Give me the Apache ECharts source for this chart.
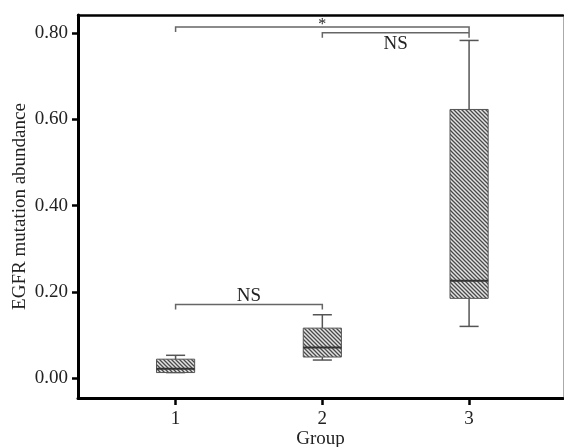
<!DOCTYPE html>
<html>
<head>
<meta charset="utf-8">
<script src="https://cdn.jsdelivr.net/npm/echarts@6/dist/echarts.min.js"></script>
<style>
  html, body { margin: 0; padding: 0; background: #fff; }
</style>
</head>
<body>
<div id="chart" style="width:564px;height:447px;"></div>
<script>
// groups on the x axis
const groups = [1, 2, 3];
// box stats per group: min, q1, median, q3, max
const whiskerLow = [0.013, 0.042, 0.120];
const q1 = [0.013, 0.049, 0.185];
const median = [0.022, 0.071, 0.226];
const q3 = [0.044, 0.116, 0.623];
const whiskerHigh = [0.053, 0.147, 0.783];
// y tick labels
const yTicks = [0, 0.2, 0.4, 0.6, 0.8];
// significance brackets
const bracketFrom = [1, 2, 1];
const bracketTo = [3, 3, 2];
const bracketY = [0.814, 0.801, 0.171];
const bracketLabel = ['*', 'NS', 'NS'];

const FONT = "'Liberation Serif', 'Times New Roman', serif";
const TXT = '#222';

// hatch fill (diagonal lines)
function hatch() {
  const s = 4;
  const c = document.createElement('canvas');
  c.width = s; c.height = s;
  const ctx = c.getContext('2d');
  ctx.fillStyle = '#e4e4e4';
  ctx.fillRect(0, 0, s, s);
  ctx.strokeStyle = '#4a4a4a';
  ctx.lineWidth = 1.3;
  ctx.beginPath();
  ctx.moveTo(-1, -1); ctx.lineTo(s + 1, s + 1);
  ctx.moveTo(-1, s - 1); ctx.lineTo(1, s + 1);
  ctx.moveTo(s - 1, -1); ctx.lineTo(s + 1, 1);
  ctx.stroke();
  return c;
}
const hatchFill = { image: hatch(), repeat: 'repeat' };

const boxData = groups.map((g, i) => [g, whiskerLow[i], q1[i], median[i], q3[i], whiskerHigh[i]]);
const bracketData = bracketFrom.map((f, i) => [f, bracketTo[i], bracketY[i], bracketLabel[i]]);
// label offset from the bracket line, px (negative = above)
const labelOffset = [-2, 11, -8];

const chart = echarts.init(document.getElementById('chart'));
chart.setOption({
  animation: false,
  grid: { left: 78, right: 1, top: 15, bottom: 49, containLabel: false, outerBoundsMode: 'none' },
  xAxis: [
    {
      type: 'value', min: 0.335, max: 3.64,
      name: 'Group', nameLocation: 'middle', nameGap: 32, nameMoveOverlap: false,
      nameTextStyle: { fontFamily: FONT, fontSize: 19, color: TXT },
      splitLine: { show: false },
      axisLine: { show: true, onZero: false, lineStyle: { color: '#000', width: 3 } },
      axisTick: { show: true, customValues: groups, length: 7, lineStyle: { color: '#000', width: 2.5 } },
      axisLabel: { customValues: groups, margin: 12, fontFamily: FONT, fontSize: 19, color: TXT }
    },
    {
      type: 'value', position: 'top', min: 0.335, max: 3.64,
      splitLine: { show: false },
      axisLine: { show: true, onZero: false, lineStyle: { color: '#000', width: 2.5 } },
      axisTick: { show: false }, axisLabel: { show: false }
    }
  ],
  yAxis: [
    {
      type: 'value', min: -0.046, max: 0.842,
      name: 'EGFR mutation abundance', nameLocation: 'middle', nameGap: 48, nameMoveOverlap: false,
      nameTextStyle: { fontFamily: FONT, fontSize: 19, color: TXT },
      splitLine: { show: false },
      axisLine: { show: true, onZero: false, lineStyle: { color: '#000', width: 3 } },
      axisTick: { show: true, customValues: yTicks, length: 6, lineStyle: { color: '#000', width: 2.5 } },
      axisLabel: {
        customValues: yTicks, margin: 10, fontFamily: FONT, fontSize: 19, color: TXT,
        formatter: v => v.toFixed(2)
      }
    },
    {
      type: 'value', position: 'right', min: -0.046, max: 0.842,
      splitLine: { show: false },
      axisLine: { show: true, onZero: false, lineStyle: { color: '#aaa', width: 1 } },
      axisTick: { show: false }, axisLabel: { show: false }
    }
  ],
  series: [
    {
      type: 'custom',
      data: boxData,
      encode: { x: 0, y: [1, 2, 3, 4, 5] },
      renderItem: function (params, api) {
        const x = api.value(0);
        const half = api.size([0.26, 0])[0] / 2;
        const cap = half / 2;
        const pLow = api.coord([x, api.value(1)]);
        const pQ1 = api.coord([x, api.value(2)]);
        const pMed = api.coord([x, api.value(3)]);
        const pQ3 = api.coord([x, api.value(4)]);
        const pHigh = api.coord([x, api.value(5)]);
        const cx = pQ1[0];
        const wStyle = { stroke: '#555', lineWidth: 1.5 };
        return {
          type: 'group',
          children: [
            { type: 'line', shape: { x1: cx, y1: pQ3[1], x2: cx, y2: pHigh[1] }, style: wStyle },
            { type: 'line', shape: { x1: cx - cap, y1: pHigh[1], x2: cx + cap, y2: pHigh[1] }, style: wStyle },
            { type: 'line', shape: { x1: cx, y1: pQ1[1], x2: cx, y2: pLow[1] }, style: wStyle },
            { type: 'line', shape: { x1: cx - cap, y1: pLow[1], x2: cx + cap, y2: pLow[1] }, style: wStyle },
            {
              type: 'rect',
              shape: { x: cx - half, y: pQ3[1], width: half * 2, height: pQ1[1] - pQ3[1] },
              style: { fill: hatchFill, stroke: '#555', lineWidth: 1 }
            },
            { type: 'line', shape: { x1: cx - half, y1: pMed[1], x2: cx + half, y2: pMed[1] }, style: { stroke: '#333', lineWidth: 2 } }
          ]
        };
      }
    },
    {
      type: 'custom',
      data: bracketData,
      encode: { x: [0, 1], y: 2 },
      renderItem: function (params, api) {
        const i = params.dataIndex;
        const a = api.coord([api.value(0), api.value(2)]);
        const b = api.coord([api.value(1), api.value(2)]);
        const drop = 5;
        const st = { stroke: '#666', lineWidth: 1.5, fill: null };
        const isStar = bracketData[i][3] === '*';
        return {
          type: 'group',
          children: [
            {
              type: 'polyline',
              shape: { points: [[a[0], a[1] + drop], [a[0], a[1]], [b[0], b[1]], [b[0], b[1] + drop]] },
              style: st
            },
            {
              type: 'text',
              x: (a[0] + b[0]) / 2,
              y: a[1] + labelOffset[i],
              style: {
                text: bracketData[i][3],
                fontFamily: FONT, fontSize: isStar ? 16 : 19, fill: TXT,
                align: 'center', verticalAlign: 'middle'
              }
            }
          ]
        };
      }
    }
  ]
});
</script>
</body>
</html>
